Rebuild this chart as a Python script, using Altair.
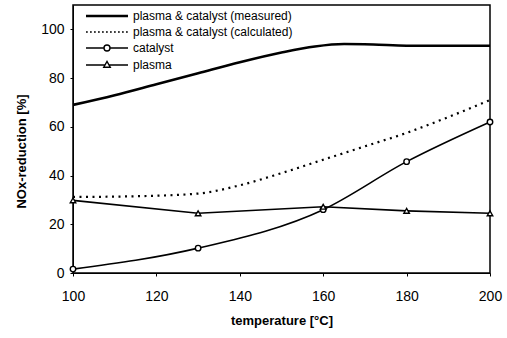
import altair as alt
import pandas as pd

# ---- data ----
meas_t = [100, 110, 120, 130, 140, 150, 158, 165, 172, 180, 190, 200]
meas_v = [69, 73, 77.5, 82, 86.5, 90.5, 93, 94, 93.8, 93.3, 93.3, 93.3]

calc_t = [100, 115, 130, 140, 150, 160, 170, 180, 190, 200]
calc_v = [31.2, 31.5, 32.6, 36, 41, 46.5, 52, 57.5, 64, 71]

cat_t = [100, 130, 160, 180, 200]
cat_v = [1.6, 10.2, 26, 45.7, 62]

pla_t = [100, 130, 160, 180, 200]
pla_v = [29.8, 24.5, 27.2, 25.5, 24.5]

series = [
    "plasma & catalyst (measured)",
    "plasma & catalyst (calculated)",
    "catalyst",
    "plasma",
]

FONT = "Liberation Sans"

df_meas = pd.DataFrame({"t": meas_t, "v": meas_v})
df_calc = pd.DataFrame({"t": calc_t, "v": calc_v})
df_cat = pd.DataFrame({"t": cat_t, "v": cat_v})
df_pla = pd.DataFrame({"t": pla_t, "v": pla_v})
df_leg = pd.DataFrame({"t": [100] * 4, "v": [meas_v[0], calc_v[0], cat_v[0], pla_v[0]], "s": series})

xs = alt.Scale(domain=[100, 200], nice=False, zero=False)
ys = alt.Scale(domain=[0, 110], nice=False)

x_axis = alt.Axis(values=[100, 120, 140, 160, 180, 200], title="temperature [°C]",
                  grid=False, labelFont=FONT, labelFontSize=14, labelPadding=13,
                  labelFlush=False,
                  titleFont=FONT, titleFontSize=13, titleFontWeight="bold", titlePadding=11,
                  tickSize=3, domainColor="black", tickColor="black", labelColor="black",
                  titleColor="black")
y_axis = alt.Axis(values=[0, 20, 40, 60, 80, 100], title="NOx-reduction [%]",
                  grid=False, labelFont=FONT, labelFontSize=14, labelPadding=6,
                  labelFlush=False, titleY=146,
                  titleFont=FONT, titleFontSize=13, titleFontWeight="bold", titlePadding=12,
                  tickSize=3, domainColor="black", tickColor="black", labelColor="black",
                  titleColor="black")

X = alt.X("t:Q", scale=xs, axis=x_axis)
Y = alt.Y("v:Q", scale=ys, axis=y_axis)

meas = alt.Chart(df_meas).mark_line(color="black", strokeWidth=2.6, interpolate="monotone").encode(x=X, y=Y)
calc = alt.Chart(df_calc).mark_line(color="black", strokeWidth=2.2, strokeDash=[2, 4.5],
                                    interpolate="monotone").encode(x=X, y=Y)
cat_line = alt.Chart(df_cat).mark_line(color="black", strokeWidth=1.6, interpolate="monotone").encode(x=X, y=Y)
cat_pts = alt.Chart(df_cat).mark_point(shape="circle", size=30, filled=True, fill="white",
                                        stroke="black", strokeWidth=1.4, opacity=1).encode(x=X, y=Y)
pla_line = alt.Chart(df_pla).mark_line(color="black", strokeWidth=1.6).encode(x=X, y=Y)
pla_pts = alt.Chart(df_pla).mark_point(shape="triangle-up", size=30, filled=True, fill="white",
                                        stroke="black", strokeWidth=1.4, opacity=1).encode(x=X, y=Y)

# legend symbols: custom paths (unit = 5 px with symbolSize 100)
L = 4.2
solid = f"M{-L},-0.12H{L}M{-L},0.12H{L}"
dots = "".join(f"M{-L + i * 0.8:.2f},0h0.35" for i in range(11))
r = 0.6
circ = (f"M{-L},0H{-r}M{r},0H{L}"
        f"M{-r},0A{r},{r},0,1,1,{r},0A{r},{r},0,1,1,{-r},0Z")
tri = (f"M{-L},0H-0.4M0.4,0H{L}"
       f"M-0.65,0.45L0,-0.7L0.65,0.45Z")
paths = [solid, dots, circ, tri]

legend_layer = alt.Chart(df_leg).mark_point(opacity=0, filled=False).encode(
    x=X, y=Y,
    shape=alt.Shape("s:N", sort=series, scale=alt.Scale(domain=series, range=paths),
                    legend=alt.Legend(
                        title=None, orient="none", legendX=28, legendY=5, padding=0,
                        symbolSize=100, symbolOpacity=1, symbolFillColor="white",
                        symbolStrokeColor="black", symbolStrokeWidth=1.4,
                        labelFont=FONT, labelFontSize=12, labelColor="black",
                        labelOffset=20, rowPadding=4, labelLimit=300,
                    )),
)

chart = alt.layer(calc, meas, cat_line, pla_line, cat_pts, pla_pts, legend_layer).properties(
    width=417, height=268,
    autosize=alt.AutoSizeParams(type="none"),
    padding={"left": 73, "top": 5, "right": 17, "bottom": 65},
    background="white",
).configure_view(stroke="black", strokeWidth=1.5)

chart.save("out.html", embed_options={"renderer": "svg", "actions": False})
